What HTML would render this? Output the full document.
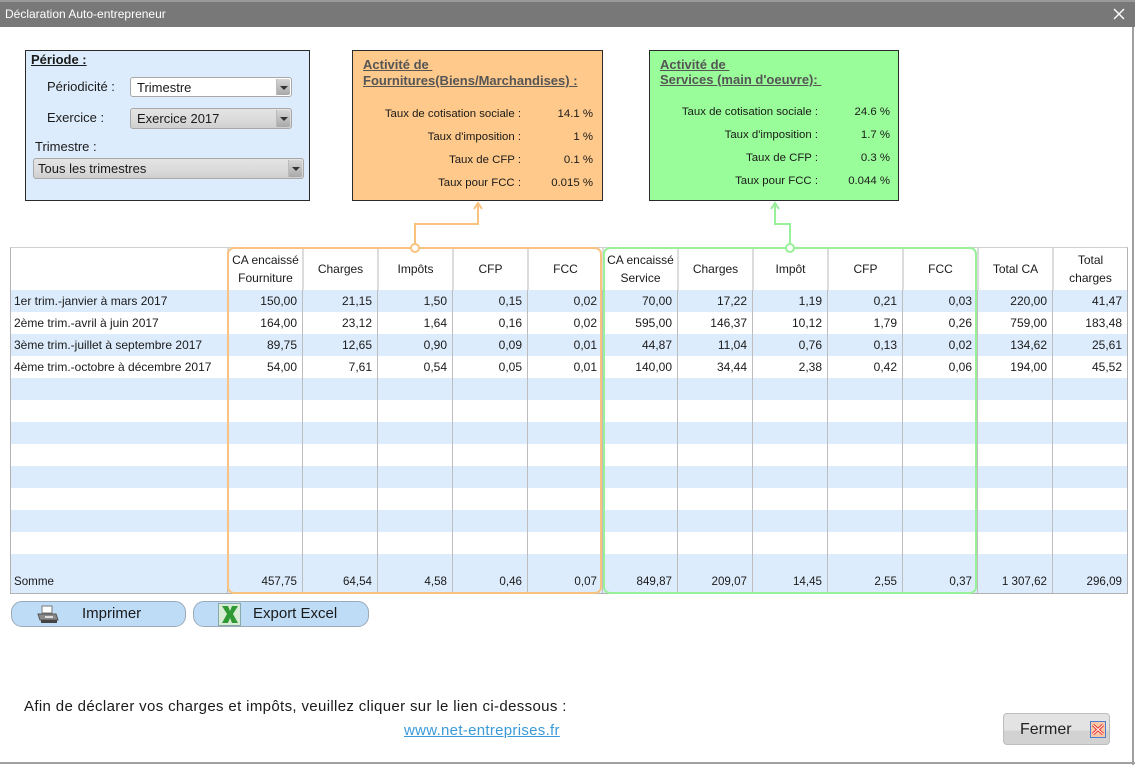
<!DOCTYPE html>
<html><head><meta charset="utf-8">
<style>
*{box-sizing:border-box;margin:0;padding:0}
body{width:1135px;height:765px;overflow:hidden;background:#fff;font-family:"Liberation Sans",Arial,sans-serif;color:#1a1a1a;position:relative}
.abs{position:absolute}
.title{left:0;top:0;width:1135px;height:27px;background:#787878;border-top:2px solid #9a9a9a}
.title span{position:absolute;left:5px;top:5px;font-size:12px;color:#fff}
.winr{left:1132px;top:27px;width:2px;height:738px;background:#a0a0a0}
.winb{left:0;top:762px;width:1135px;height:2px;background:#a0a0a0}
.box{border:1px solid #2a2a2a}
.sel{border:1px solid #a8a8a8;border-radius:3px;font-size:13px;padding-left:6px;line-height:19px}
.sel.g{background:linear-gradient(#e4e4e4,#dadada 60%,#cfcfcf)}
.sel .btn{position:absolute;right:1px;top:1px;bottom:1px;width:14px;background:linear-gradient(#d6d6d6,#a9a9a9);border-left:1px solid #bbb;border-radius:0 2px 2px 0}
.sel .btn:after{content:"";position:absolute;left:3px;top:7px;border-left:4px solid transparent;border-right:4px solid transparent;border-top:4px solid #333}
.lbl{font-size:13px;line-height:16px}
.ttl{font-size:13px;font-weight:bold;color:#555;text-decoration:underline;line-height:16px;white-space:pre}
.rate{font-size:11.4px;line-height:14px;position:absolute;text-align:right;white-space:nowrap}
.grid{display:grid;grid-template-columns:216px repeat(12,75px)}
.grid>div{font-size:12px;white-space:nowrap;overflow:hidden}
.grid>div+div{border-left:1px solid #bdbdbd;text-align:right;padding-right:5px}
.hdr>div{background:#fff;text-align:center!important;padding:0!important;display:flex;align-items:center;justify-content:center;line-height:18px}
.hdr>div+div{border-left:2px solid #dcdcdc}
.r{height:22px;line-height:22px}
.r>div:first-child{padding-left:3px}
.b{background:#ddecfc}
.w{background:#fff}
.sum>div{font-size:11.6px!important}
.button{border:1px solid #9aaab8;border-radius:11px;background:#bfdcf7;font-size:15px;line-height:24px}
</style></head><body>

<div class="abs title"><span>Déclaration Auto-entrepreneur</span>
  <svg class="abs" style="left:1113px;top:6px" width="12" height="12"><path d="M1 1 L11 11 M11 1 L1 11" stroke="#fff" stroke-width="1.4"/></svg>
</div>
<div class="abs winr"></div>
<div class="abs winb"></div>

<!-- Période box -->
<div class="abs box" style="left:25px;top:50px;width:285px;height:151px;background:#ddecfc"></div>
<div class="abs" style="left:31px;top:52px;font-size:13px;font-weight:bold;text-decoration:underline;line-height:16px">Période :</div>
<div class="abs lbl" style="left:47px;top:79px">Périodicité :</div>
<div class="abs sel" style="left:130px;top:77px;width:162px;height:20px;background:#fff">Trimestre<div class="btn"></div></div>
<div class="abs lbl" style="left:47px;top:110px">Exercice :</div>
<div class="abs sel g" style="left:130px;top:108px;width:162px;height:21px">Exercice 2017<div class="btn"></div></div>
<div class="abs lbl" style="left:35px;top:139px">Trimestre :</div>
<div class="abs sel g" style="left:33px;top:158px;width:271px;height:21px;padding-left:4px">Tous les trimestres<div class="btn"></div></div>

<!-- Fournitures box -->
<div class="abs box" style="left:352px;top:50px;width:251px;height:151px;background:#fec98a">
  <div class="abs ttl" style="left:10px;top:6px">Activité de </div>
  <div class="abs ttl" style="left:10px;top:22px">Fournitures(Biens/Marchandises) :</div>
  <div class="rate" style="right:81px;top:56px">Taux de cotisation sociale :</div><div class="rate" style="right:9px;top:56px">14.1 %</div>
  <div class="rate" style="right:81px;top:79px">Taux d'imposition :</div><div class="rate" style="right:9px;top:79px">1 %</div>
  <div class="rate" style="right:81px;top:102px">Taux de CFP :</div><div class="rate" style="right:9px;top:102px">0.1 %</div>
  <div class="rate" style="right:81px;top:125px">Taux pour FCC :</div><div class="rate" style="right:9px;top:125px">0.015 %</div>
</div>

<!-- Services box -->
<div class="abs box" style="left:649px;top:50px;width:250px;height:151px;background:#99fd99">
  <div class="abs ttl" style="left:10px;top:6px">Activité de </div>
  <div class="abs ttl" style="left:10px;top:21px">Services (main d'oeuvre): </div>
  <div class="rate" style="right:80px;top:54px">Taux de cotisation sociale :</div><div class="rate" style="right:8px;top:54px">24.6 %</div>
  <div class="rate" style="right:80px;top:77px">Taux d'imposition :</div><div class="rate" style="right:8px;top:77px">1.7 %</div>
  <div class="rate" style="right:80px;top:100px">Taux de CFP :</div><div class="rate" style="right:8px;top:100px">0.3 %</div>
  <div class="rate" style="right:80px;top:123px">Taux pour FCC :</div><div class="rate" style="right:8px;top:123px">0.044 %</div>
</div>

<!-- Table -->
<div class="abs" style="left:10px;top:247px;width:1118px;height:347px;border:1px solid #b2b2b2;border-top-color:#d0d0d0">
  <div class="grid hdr" style="height:42px">
    <div></div><div>CA encaissé<br>Fourniture</div><div>Charges</div><div>Impôts</div><div>CFP</div><div>FCC</div><div>CA encaissé<br>Service</div><div>Charges</div><div>Impôt</div><div>CFP</div><div>FCC</div><div>Total CA</div><div>Total<br>charges</div>
  </div>
  <div class="grid r b"><div>1er trim.-janvier à mars 2017</div><div>150,00</div><div>21,15</div><div>1,50</div><div>0,15</div><div>0,02</div><div>70,00</div><div>17,22</div><div>1,19</div><div>0,21</div><div>0,03</div><div>220,00</div><div>41,47</div></div>
  <div class="grid r w"><div>2ème trim.-avril à juin 2017</div><div>164,00</div><div>23,12</div><div>1,64</div><div>0,16</div><div>0,02</div><div>595,00</div><div>146,37</div><div>10,12</div><div>1,79</div><div>0,26</div><div>759,00</div><div>183,48</div></div>
  <div class="grid r b"><div>3ème trim.-juillet à septembre 2017</div><div>89,75</div><div>12,65</div><div>0,90</div><div>0,09</div><div>0,01</div><div>44,87</div><div>11,04</div><div>0,76</div><div>0,13</div><div>0,02</div><div>134,62</div><div>25,61</div></div>
  <div class="grid r w"><div>4ème trim.-octobre à décembre 2017</div><div>54,00</div><div>7,61</div><div>0,54</div><div>0,05</div><div>0,01</div><div>140,00</div><div>34,44</div><div>2,38</div><div>0,42</div><div>0,06</div><div>194,00</div><div>45,52</div></div>
  <div class="grid r b"><div></div><div></div><div></div><div></div><div></div><div></div><div></div><div></div><div></div><div></div><div></div><div></div><div></div></div>
  <div class="grid r w"><div></div><div></div><div></div><div></div><div></div><div></div><div></div><div></div><div></div><div></div><div></div><div></div><div></div></div>
  <div class="grid r b"><div></div><div></div><div></div><div></div><div></div><div></div><div></div><div></div><div></div><div></div><div></div><div></div><div></div></div>
  <div class="grid r w"><div></div><div></div><div></div><div></div><div></div><div></div><div></div><div></div><div></div><div></div><div></div><div></div><div></div></div>
  <div class="grid r b"><div></div><div></div><div></div><div></div><div></div><div></div><div></div><div></div><div></div><div></div><div></div><div></div><div></div></div>
  <div class="grid r w"><div></div><div></div><div></div><div></div><div></div><div></div><div></div><div></div><div></div><div></div><div></div><div></div><div></div></div>
  <div class="grid r b"><div></div><div></div><div></div><div></div><div></div><div></div><div></div><div></div><div></div><div></div><div></div><div></div><div></div></div>
  <div class="grid r w"><div></div><div></div><div></div><div></div><div></div><div></div><div></div><div></div><div></div><div></div><div></div><div></div><div></div></div>
  <div class="grid b" style="height:17px"><div></div><div></div><div></div><div></div><div></div><div></div><div></div><div></div><div></div><div></div><div></div><div></div><div></div></div>
  <div class="grid r b sum"><div>Somme</div><div>457,75</div><div>64,54</div><div>4,58</div><div>0,46</div><div>0,07</div><div>849,87</div><div>209,07</div><div>14,45</div><div>2,55</div><div>0,37</div><div>1 307,62</div><div>296,09</div></div>
</div>

<!-- group outlines -->
<div class="abs" style="left:227px;top:247px;width:375px;height:347px;border:2px solid #f9c37f;border-radius:7px"></div>
<div class="abs" style="left:603px;top:247px;width:374px;height:347px;border:2px solid #98f098;border-radius:7px"></div>

<svg class="abs" style="left:0;top:0" width="1135" height="765">
  <g fill="none" stroke="#f9c37f" stroke-width="2">
    <polyline points="415,244 415,224 478,224 478,203"/>
    <polyline points="474,209 478,203 482,209"/>
    <circle cx="415" cy="248" r="4" fill="#fff"/>
  </g>
  <g fill="none" stroke="#98f098" stroke-width="2">
    <polyline points="790,244 790,224 775,224 775,203"/>
    <polyline points="771,209 775,203 779,209"/>
    <circle cx="790" cy="248" r="4" fill="#fff"/>
  </g>
</svg>

<!-- Buttons -->
<div class="abs button" style="left:11px;top:601px;width:175px;height:26px">
  <svg class="abs" style="left:24px;top:3px" width="24" height="20">
    <rect x="6" y="1" width="10" height="7" fill="#fff" stroke="#777"/>
    <path d="M2 9 L20 9 L22 15 L4 15 Z" fill="#8a8a8a" stroke="#555"/>
    <rect x="5" y="15" width="16" height="3" fill="#444"/>
    <rect x="9" y="11" width="8" height="2" fill="#ddd"/>
  </svg>
  <span class="abs" style="left:70px;top:0">Imprimer</span>
</div>
<div class="abs button" style="left:193px;top:601px;width:176px;height:26px">
  <svg class="abs" style="left:24px;top:1px" width="23" height="23">
    <rect x="0.5" y="0.5" width="22" height="22" fill="#d9ecd5" stroke="#8aa"/>
    <path d="M4 3 L10 3 L12 8 L14 3 L20 3 L15 11 L20 20 L14 20 L12 15 L10 20 L4 20 L9 11 Z" fill="#2f9a34"/>
  </svg>
  <span class="abs" style="left:59px;top:0">Export Excel</span>
</div>

<div class="abs" style="left:24px;top:698px;font-size:15px;line-height:18px;letter-spacing:0.35px;white-space:nowrap">Afin de déclarer vos charges et impôts, veuillez cliquer sur le lien ci-dessous :</div>
<div class="abs" style="left:404px;top:722px;font-size:15px;line-height:18px;color:#3a9ad9;text-decoration:underline;letter-spacing:0.3px;white-space:nowrap">www.net-entreprises.fr</div>

<div class="abs" style="left:1003px;top:713px;width:107px;height:32px;border:1px solid #bdbdbd;border-radius:4px;background:linear-gradient(#e3e3e3 0,#e3e3e3 55%,#d2d2d2 56%,#d2d2d2 100%)">
  <span class="abs" style="left:16px;top:7px;font-size:16px;line-height:18px;color:#222">Fermer</span>
  <svg class="abs" style="left:86px;top:7px" width="16" height="17">
    <rect x="0.5" y="0.5" width="15" height="16" fill="#f8c8a8" stroke="#4a7fd0"/>
    <path d="M3 4 L13 13 M13 4 L3 13" stroke="#e8332a" stroke-width="3"/>
    <path d="M3 4 L13 13 M13 4 L3 13" stroke="#fff" stroke-width="1"/>
  </svg>
</div>

</body></html>
